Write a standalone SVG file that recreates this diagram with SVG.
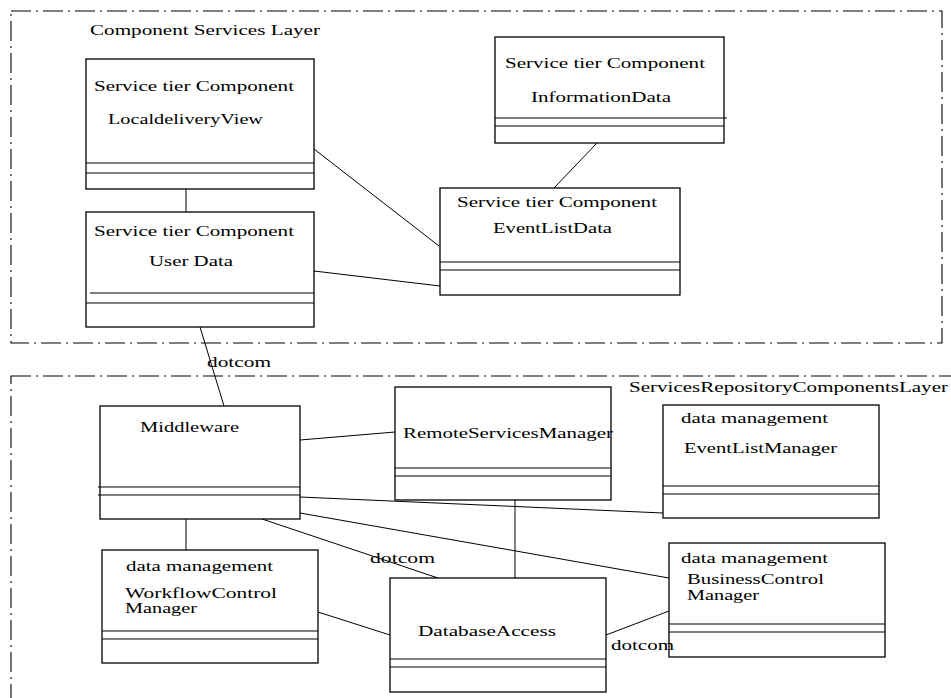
<svg xmlns="http://www.w3.org/2000/svg" width="951" height="698" viewBox="0 0 951 698">
<style>
.frame{fill:none;stroke:#000;stroke-width:1.1;stroke-dasharray:20 5 2 5}
.box rect{fill:#fff;stroke:#000;stroke-width:1.3}
.box line{stroke:#000;stroke-width:1.1}
.conn line{stroke:#000;stroke-width:1}
text{font-family:"Liberation Serif","Times New Roman",serif;font-size:15px;fill:#000}
</style>
<rect width="951" height="698" fill="#fff"/>
<g id="layer-component-services">
<rect class="frame" x="11" y="11" width="931" height="332"/>
<text x="90" y="35" textLength="230" lengthAdjust="spacingAndGlyphs">Component Services Layer</text>
</g>
<g id="layer-repository">
<rect class="frame" x="11" y="376" width="960" height="340"/>
<text x="629" y="392" textLength="319" lengthAdjust="spacingAndGlyphs">ServicesRepositoryComponentsLayer</text>
</g>
<g id="connectors" class="conn">
<line x1="186" y1="189" x2="186" y2="212"/>
<line x1="314" y1="149" x2="439" y2="246"/>
<line x1="314" y1="271" x2="440" y2="286"/>
<line x1="597" y1="143" x2="554" y2="188"/>
<line x1="200" y1="327" x2="224" y2="406"/>
<line x1="300" y1="440" x2="395" y2="432"/>
<line x1="300" y1="497" x2="663" y2="513"/>
<line x1="300" y1="513" x2="669" y2="578"/>
<line x1="262" y1="519" x2="438" y2="578"/>
<line x1="186" y1="519" x2="186" y2="550"/>
<line x1="318" y1="612" x2="390" y2="635"/>
<line x1="515" y1="500" x2="515" y2="578"/>
<line x1="606" y1="635" x2="669" y2="611"/>
</g>
<g id="labels">
<text x="207" y="367" textLength="64" lengthAdjust="spacingAndGlyphs">dotcom</text>
</g>
<g id="node-localdeliveryview" class="box">
<rect x="86" y="59" width="228" height="130"/>
<line x1="86" y1="163" x2="314" y2="163"/>
<line x1="86" y1="173" x2="314" y2="173"/>
<text x="94" y="91" textLength="200" lengthAdjust="spacingAndGlyphs">Service tier Component</text>
<text x="108" y="124" textLength="155" lengthAdjust="spacingAndGlyphs">LocaldeliveryView</text>
</g>
<g id="node-userdata" class="box">
<rect x="86" y="212" width="228" height="115"/>
<line x1="90" y1="293" x2="314" y2="293"/>
<line x1="86" y1="303" x2="314" y2="303"/>
<text x="94" y="236" textLength="200" lengthAdjust="spacingAndGlyphs">Service tier Component</text>
<text x="149" y="266" textLength="84" lengthAdjust="spacingAndGlyphs">User Data</text>
</g>
<g id="node-informationdata" class="box">
<rect x="495" y="37" width="229" height="106"/>
<line x1="495" y1="118" x2="727" y2="118"/>
<line x1="495" y1="126" x2="724" y2="126"/>
<text x="505" y="68" textLength="200" lengthAdjust="spacingAndGlyphs">Service tier Component</text>
<text x="531" y="102" textLength="140" lengthAdjust="spacingAndGlyphs">InformationData</text>
</g>
<g id="node-eventlistdata" class="box">
<rect x="440" y="188" width="240" height="107"/>
<line x1="440" y1="262" x2="680" y2="262"/>
<line x1="440" y1="270" x2="680" y2="270"/>
<text x="457" y="207" textLength="200" lengthAdjust="spacingAndGlyphs">Service tier Component</text>
<text x="493" y="233" textLength="119" lengthAdjust="spacingAndGlyphs">EventListData</text>
</g>
<g id="node-middleware" class="box">
<rect x="100" y="406" width="200" height="113"/>
<line x1="98" y1="487" x2="300" y2="487"/>
<line x1="98" y1="495" x2="300" y2="495"/>
<text x="140" y="432" textLength="99" lengthAdjust="spacingAndGlyphs">Middleware</text>
</g>
<g id="node-remoteservicesmanager" class="box">
<rect x="395" y="387" width="216" height="113"/>
<line x1="395" y1="468" x2="611" y2="468"/>
<line x1="395" y1="476" x2="611" y2="476"/>
<text x="403" y="438" textLength="210" lengthAdjust="spacingAndGlyphs">RemoteServicesManager</text>
</g>
<g id="node-eventlistmanager" class="box">
<rect x="663" y="405" width="216" height="113"/>
<line x1="663" y1="486" x2="879" y2="486"/>
<line x1="663" y1="494" x2="879" y2="494"/>
<text x="681" y="423" textLength="147" lengthAdjust="spacingAndGlyphs">data management</text>
<text x="684" y="453" textLength="153" lengthAdjust="spacingAndGlyphs">EventListManager</text>
</g>
<g id="node-workflowcontrolmanager" class="box">
<rect x="102" y="550" width="216" height="113"/>
<line x1="102" y1="631" x2="318" y2="631"/>
<line x1="102" y1="639" x2="318" y2="639"/>
<text x="126" y="571" textLength="147" lengthAdjust="spacingAndGlyphs">data management</text>
<text x="125" y="598" textLength="152" lengthAdjust="spacingAndGlyphs">WorkflowControl</text>
<text x="125" y="613" textLength="72" lengthAdjust="spacingAndGlyphs">Manager</text>
</g>
<g id="node-databaseaccess" class="box">
<rect x="390" y="578" width="216" height="114"/>
<line x1="390" y1="659" x2="606" y2="659"/>
<line x1="390" y1="667" x2="606" y2="667"/>
<text x="418" y="636" textLength="138" lengthAdjust="spacingAndGlyphs">DatabaseAccess</text>
</g>
<g id="node-businesscontrolmanager" class="box">
<rect x="669" y="543" width="216" height="114"/>
<line x1="669" y1="624" x2="885" y2="624"/>
<line x1="669" y1="632" x2="885" y2="632"/>
<text x="681" y="563" textLength="147" lengthAdjust="spacingAndGlyphs">data management</text>
<text x="687" y="584" textLength="137" lengthAdjust="spacingAndGlyphs">BusinessControl</text>
<text x="687" y="600" textLength="72" lengthAdjust="spacingAndGlyphs">Manager</text>
</g>
<g id="edge-labels">
<text x="370" y="563" textLength="65" lengthAdjust="spacingAndGlyphs">dotcom</text>
<text x="611" y="650" textLength="63" lengthAdjust="spacingAndGlyphs">dotcom</text>
</g>
</svg>
